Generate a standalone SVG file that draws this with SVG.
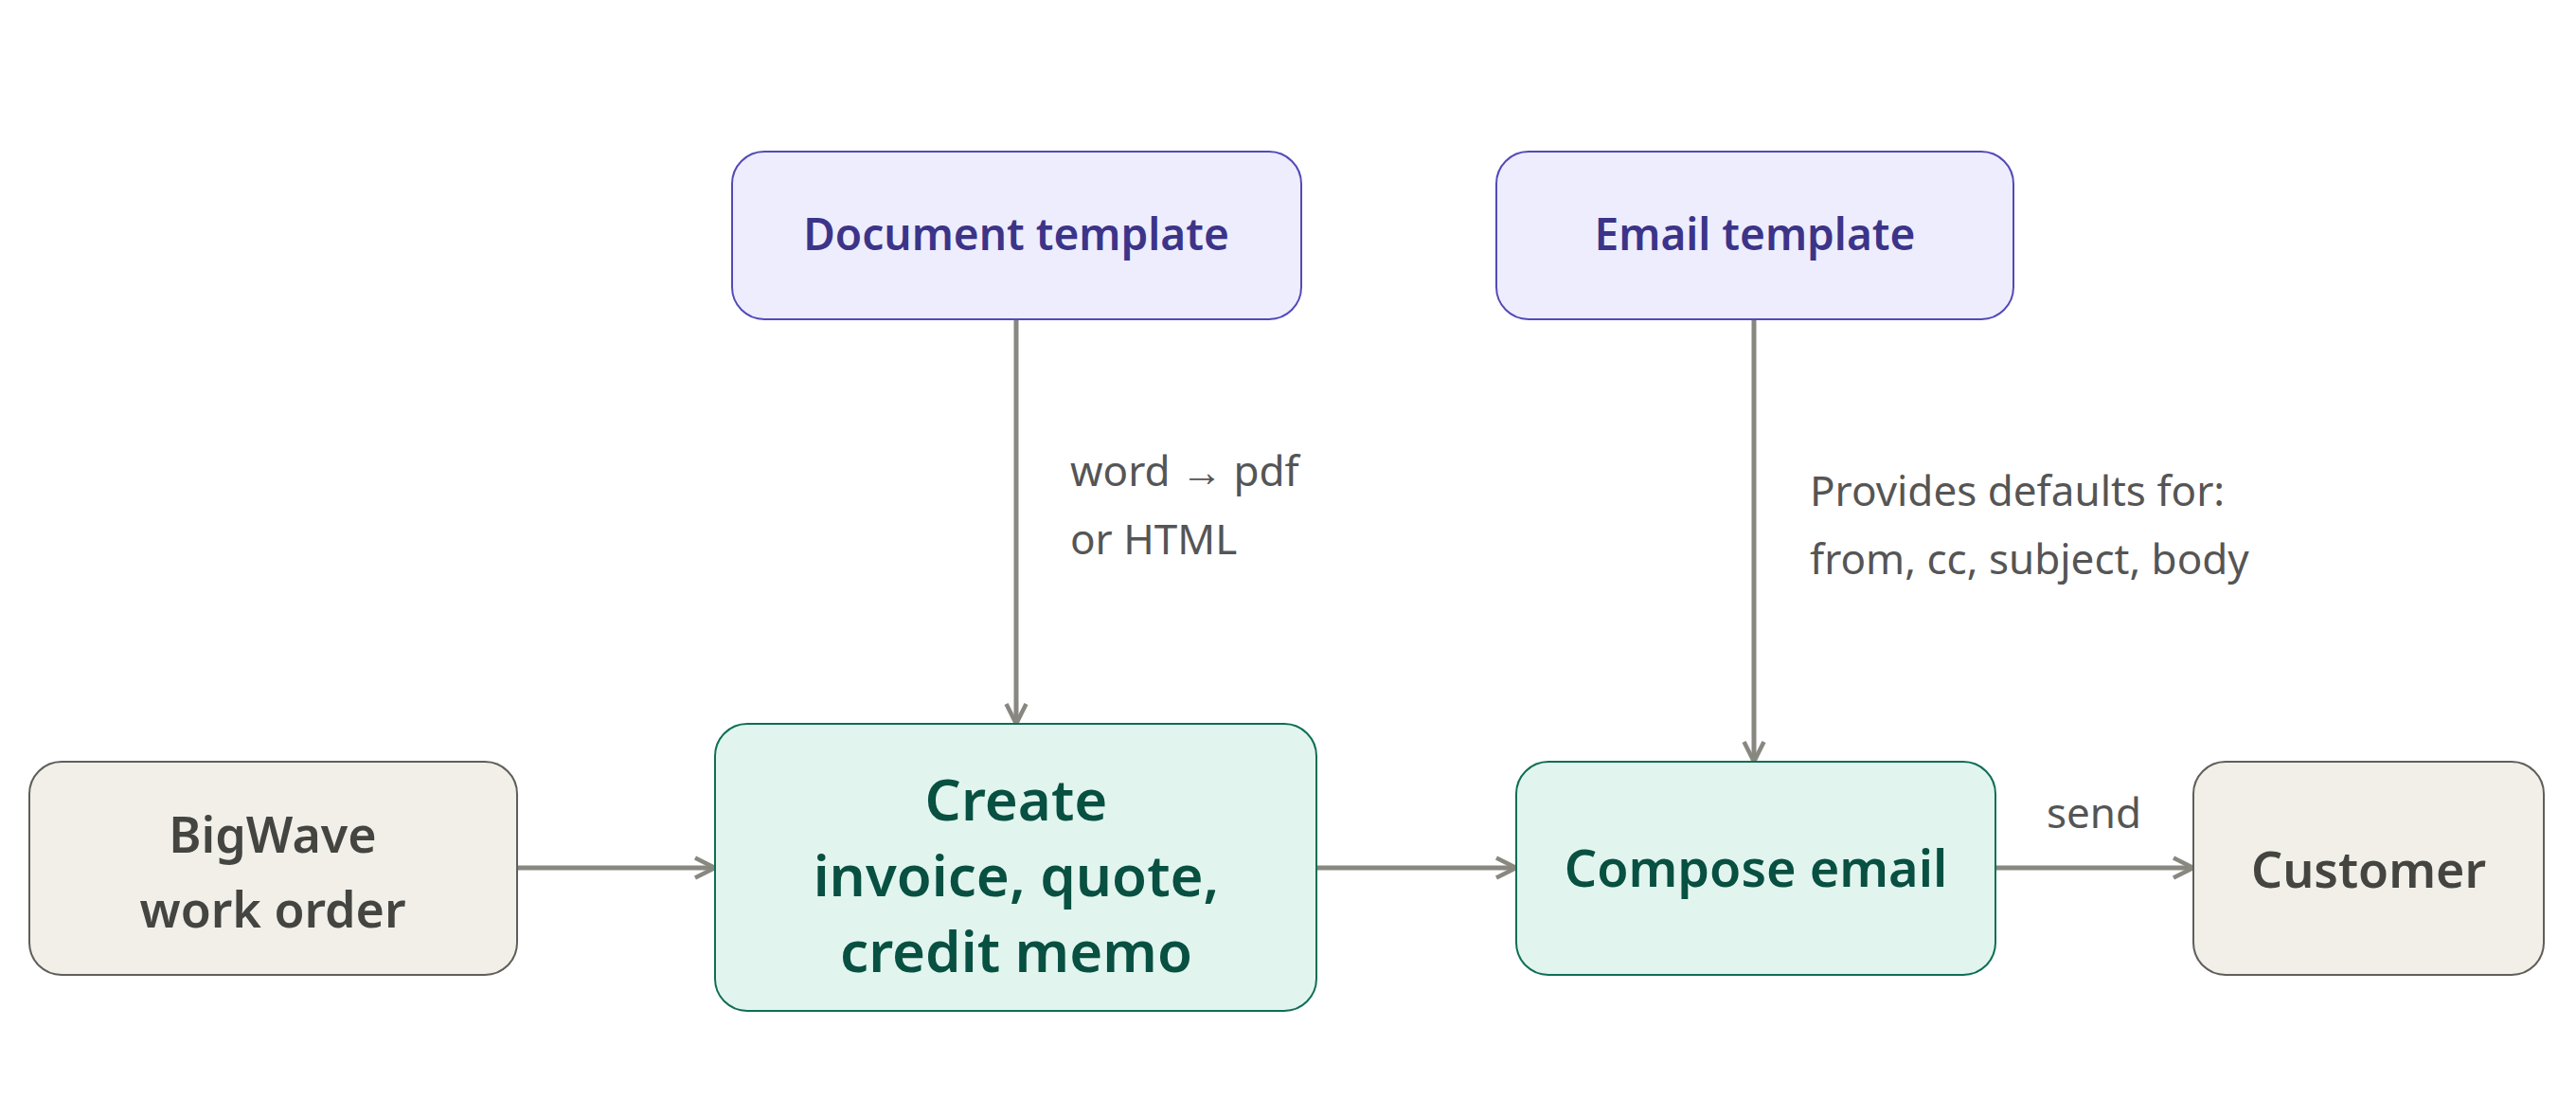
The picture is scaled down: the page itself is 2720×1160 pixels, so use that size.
<svg xmlns="http://www.w3.org/2000/svg" width="2720" height="1160" viewBox="0 0 2720 1160">
<style>
text{font-family:"Noto Sans","Open Sans",sans-serif}
.p rect{fill:#EEEDFD;stroke:#534AB7;stroke-width:2}
.p text{fill:#3C3489;font-weight:600;font-size:46px}
.g rect{fill:#E1F5EE;stroke:#0F6E56;stroke-width:2}
.g text{fill:#085041;font-weight:600}
.b rect{fill:#F1EFE8;stroke:#5F5E5A;stroke-width:2}
.b text{fill:#444441;font-weight:600;font-size:52px}
.l{fill:#555;font-size:44px}
.c{stroke:#888780;stroke-width:5;fill:none;marker-end:url(#a)}
</style>
<defs><marker id="a" viewBox="0 0 20 20" refX="18" refY="10" markerWidth="6" markerHeight="6" markerUnits="strokeWidth" orient="auto"><path d="M4 3 L18 10 L4 17" fill="none" stroke="#888780" stroke-width="3"/></marker></defs>
<g id="connectors">
<path class="c" d="M1073 337 V764"/>
<path class="c" d="M1852 337 V804"/>
<path class="c" d="M546 916 H755"/>
<path class="c" d="M1390 916 H1601"/>
<path class="c" d="M2107 916 H2316"/>
<text class="l" x="1130" y="513">word → pdf</text>
<text class="l" x="1130" y="585">or HTML</text>
<text class="l" x="1911" y="534">Provides defaults for:</text>
<text class="l" x="1911" y="606">from, cc, subject, body</text>
<text class="l" x="2211" y="874" text-anchor="middle">send</text>
</g>
<g id="doc" class="p"><rect x="773" y="160" width="601" height="177" rx="34"/><text x="1073" y="264" text-anchor="middle">Document template</text></g>
<g id="emailtpl" class="p"><rect x="1580" y="160" width="546" height="177" rx="34"/><text x="1853" y="264" text-anchor="middle">Email template</text></g>
<g id="bigwave" class="b"><rect x="31" y="804" width="515" height="225" rx="34"/><text x="288" y="900" text-anchor="middle">BigWave</text><text x="288" y="979" text-anchor="middle">work order</text></g>
<g id="create" class="g"><rect x="755" y="764" width="635" height="303" rx="34"/><text font-size="60" text-anchor="middle"><tspan x="1073" y="866">Create</tspan><tspan x="1073" y="946">invoice, quote,</tspan><tspan x="1073" y="1026">credit memo</tspan></text></g>
<g id="compose" class="g"><rect x="1601" y="804" width="506" height="225" rx="34"/><text x="1854" y="936" font-size="54" text-anchor="middle">Compose email</text></g>
<g id="customer" class="b"><rect x="2316" y="804" width="370" height="225" rx="34"/><text x="2501" y="937" font-size="54" text-anchor="middle">Customer</text></g>
</svg>
